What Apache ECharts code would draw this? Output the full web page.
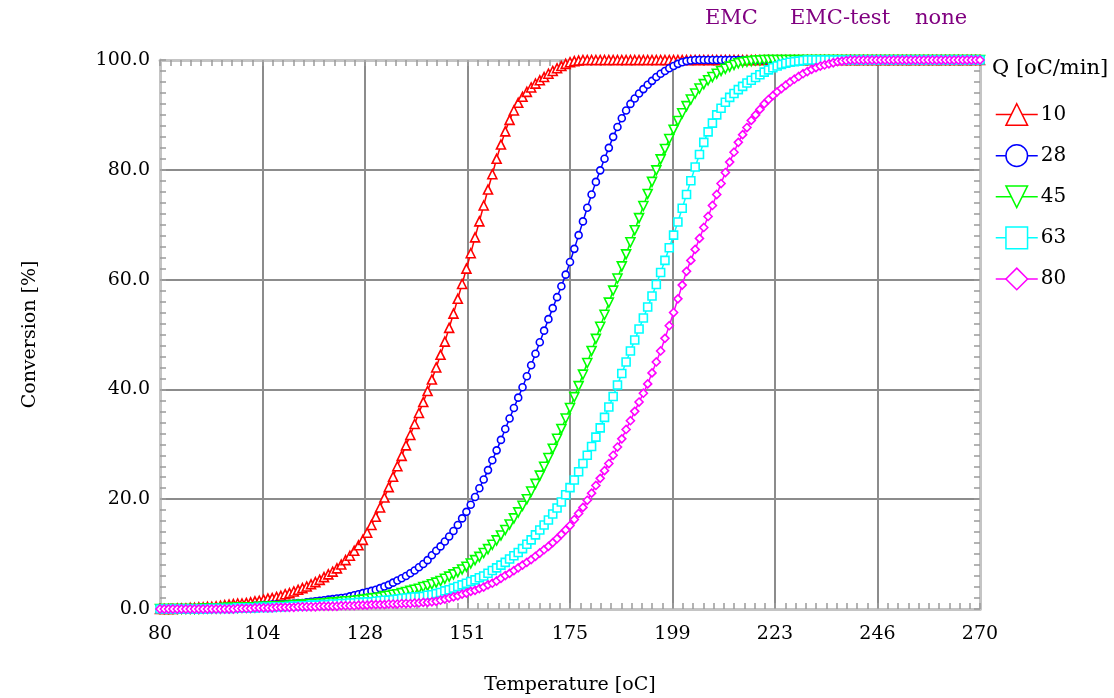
<!DOCTYPE html>
<html>
<head>
<meta charset="utf-8">
<script src="https://cdn.jsdelivr.net/npm/echarts@6/dist/echarts.min.js"></script>
<style>
  html, body { margin: 0; padding: 0; background: #fff; }
  #chart { width: 1114px; height: 698px; }
</style>
</head>
<body>
<div id="chart"></div>
<script>
// temperatures [oC]
var temps = [
  80, 81, 82, 83, 84, 85, 86, 87, 88, 89,
  90, 91, 92, 93, 94, 95, 96, 97, 98, 99,
  100, 101, 102, 103, 104, 105, 106, 107, 108, 109,
  110, 111, 112, 113, 114, 115, 116, 117, 118, 119,
  120, 121, 122, 123, 124, 125, 126, 127, 128, 129,
  130, 131, 132, 133, 134, 135, 136, 137, 138, 139,
  140, 141, 142, 143, 144, 145, 146, 147, 148, 149,
  150, 151, 152, 153, 154, 155, 156, 157, 158, 159,
  160, 161, 162, 163, 164, 165, 166, 167, 168, 169,
  170, 171, 172, 173, 174, 175, 176, 177, 178, 179,
  180, 181, 182, 183, 184, 185, 186, 187, 188, 189,
  190, 191, 192, 193, 194, 195, 196, 197, 198, 199,
  200, 201, 202, 203, 204, 205, 206, 207, 208, 209,
  210, 211, 212, 213, 214, 215, 216, 217, 218, 219,
  220, 221, 222, 223, 224, 225, 226, 227, 228, 229,
  230, 231, 232, 233, 234, 235, 236, 237, 238, 239,
  240, 241, 242, 243, 244, 245, 246, 247, 248, 249,
  250, 251, 252, 253, 254, 255, 256, 257, 258, 259,
  260, 261, 262, 263, 264, 265, 266, 267, 268, 269,
  270
];

// conversion [%], Q = 10 oC/min
var conv10 = [
  0, 0, 0, 0, 0.1, 0.1, 0.1, 0.2, 0.2, 0.3,
  0.3, 0.4, 0.4, 0.5, 0.6, 0.7, 0.8, 0.9, 1.0, 1.0,
  1.1, 1.2, 1.4, 1.5, 1.7, 1.9, 2.0, 2.2, 2.4, 2.7,
  2.9, 3.2, 3.5, 3.8, 4.1, 4.5, 4.9, 5.3, 5.8, 6.3,
  6.8, 7.4, 8.1, 8.9, 9.7, 10.6, 11.6, 12.6, 13.9, 15.3,
  16.8, 18.5, 20.3, 22.2, 24.1, 26.0, 27.9, 29.8, 31.7, 33.7,
  35.7, 37.7, 39.7, 41.8, 44.0, 46.3, 48.7, 51.2, 53.8, 56.5,
  59.2, 62.0, 64.8, 67.7, 70.6, 73.5, 76.4, 79.2, 82.0, 84.6,
  87.0, 89.1, 90.8, 92.2, 93.3, 94.2, 95.0, 95.7, 96.3, 96.9,
  97.5, 98.0, 98.5, 98.9, 99.3, 99.6, 99.8, 99.9, 100, 100,
  100, 100, 100, 100, 100, 100, 100, 100, 100, 100,
  100, 100, 100, 100, 100, 100, 100, 100, 100, 100,
  100, 100, 100, 100, 100, 100, 100, 100, 100, 100,
  100, 100, 100, 100, 100, 100, 100, 100, 100, 100,
  100, 100, 100, 100, 100, 100, 100, 100, 100, 100,
  100, 100, 100, 100, 100, 100, 100, 100, 100, 100,
  100, 100, 100, 100, 100, 100, 100, 100, 100, 100,
  100, 100, 100, 100, 100, 100, 100, 100, 100, 100,
  100, 100, 100, 100, 100, 100, 100, 100, 100, 100,
  100
];

// Q = 28 oC/min
var conv28 = [
  0, 0, 0, 0, 0, 0, 0, 0, 0.1, 0.1,
  0.1, 0.1, 0.2, 0.2, 0.2, 0.3, 0.3, 0.3, 0.4, 0.4,
  0.5, 0.5, 0.6, 0.6, 0.7, 0.7, 0.8, 0.8, 0.8, 0.9,
  0.9, 1.0, 1.1, 1.1, 1.2, 1.3, 1.4, 1.5, 1.6, 1.7,
  1.8, 1.9, 2.0, 2.1, 2.3, 2.5, 2.7, 2.9, 3.1, 3.3,
  3.5, 3.8, 4.1, 4.4, 4.8, 5.2, 5.6, 6.0, 6.5, 7.0,
  7.6, 8.2, 8.9, 9.8, 10.6, 11.4, 12.3, 13.2, 14.2, 15.3,
  16.5, 17.7, 19.0, 20.4, 22.0, 23.6, 25.3, 27.1, 28.9, 30.8,
  32.8, 34.7, 36.6, 38.5, 40.4, 42.4, 44.4, 46.5, 48.6, 50.7,
  52.8, 54.8, 56.8, 58.8, 60.9, 63.2, 65.6, 68.1, 70.6, 73.1,
  75.5, 77.8, 79.9, 82.0, 84.0, 86.0, 87.8, 89.4, 90.8, 92.0,
  93.0, 93.9, 94.7, 95.5, 96.2, 96.9, 97.5, 98.0, 98.5, 98.9,
  99.3, 99.6, 99.8, 99.9, 100, 100, 100, 100, 100, 100,
  100, 100, 100, 100, 100, 100, 100, 100, 100, 100,
  100, 100, 100, 100, 100, 100, 100, 100, 100, 100,
  100, 100, 100, 100, 100, 100, 100, 100, 100, 100,
  100, 100, 100, 100, 100, 100, 100, 100, 100, 100,
  100, 100, 100, 100, 100, 100, 100, 100, 100, 100,
  100, 100, 100, 100, 100, 100, 100, 100, 100, 100,
  100
];

// Q = 45 oC/min
var conv45 = [
  0, 0, 0, 0, 0, 0, 0, 0, 0, 0,
  0.1, 0.1, 0.1, 0.1, 0.1, 0.2, 0.2, 0.2, 0.2, 0.3,
  0.3, 0.3, 0.3, 0.4, 0.4, 0.4, 0.5, 0.5, 0.5, 0.6,
  0.6, 0.7, 0.7, 0.8, 0.8, 0.9, 0.9, 1.0, 1.0, 1.1,
  1.2, 1.2, 1.3, 1.4, 1.4, 1.5, 1.6, 1.7, 1.8, 1.9,
  2.0, 2.1, 2.3, 2.4, 2.6, 2.7, 2.9, 3.1, 3.3, 3.5,
  3.7, 4.0, 4.2, 4.5, 4.8, 5.1, 5.5, 5.9, 6.3, 6.7,
  7.2, 7.7, 8.3, 8.9, 9.5, 10.2, 10.9, 11.7, 12.5, 13.4,
  14.4, 15.4, 16.5, 17.6, 18.8, 20.0, 21.4, 22.8, 24.3, 25.9,
  27.5, 29.2, 31.0, 32.8, 34.7, 36.6, 38.6, 40.6, 42.7, 44.8,
  47.0, 49.2, 51.4, 53.6, 55.8, 58.0, 60.2, 62.4, 64.6, 66.8,
  69.0, 71.2, 73.4, 75.6, 77.8, 79.9, 81.9, 83.8, 85.6, 87.3,
  88.9, 90.3, 91.6, 92.8, 93.9, 94.8, 95.6, 96.3, 96.9, 97.5,
  98.0, 98.4, 98.8, 99.1, 99.4, 99.6, 99.7, 99.8, 99.9, 99.9,
  100, 100, 100, 100, 100, 100, 100, 100, 100, 100,
  100, 100, 100, 100, 100, 100, 100, 100, 100, 100,
  100, 100, 100, 100, 100, 100, 100, 100, 100, 100,
  100, 100, 100, 100, 100, 100, 100, 100, 100, 100,
  100, 100, 100, 100, 100, 100, 100, 100, 100, 100,
  100
];

// Q = 63 oC/min
var conv63 = [
  0, 0, 0, 0, 0, 0, 0, 0, 0, 0,
  0, 0, 0.1, 0.1, 0.1, 0.1, 0.1, 0.1, 0.2, 0.2,
  0.2, 0.2, 0.2, 0.3, 0.3, 0.3, 0.3, 0.4, 0.4, 0.4,
  0.5, 0.5, 0.5, 0.6, 0.6, 0.7, 0.7, 0.7, 0.8, 0.8,
  0.9, 0.9, 1.0, 1.0, 1.1, 1.1, 1.2, 1.2, 1.3, 1.3,
  1.4, 1.5, 1.6, 1.6, 1.7, 1.8, 1.9, 2.0, 2.1, 2.2,
  2.2, 2.3, 2.5, 2.6, 2.8, 3.0, 3.3, 3.5, 3.8, 4.1,
  4.4, 4.7, 5.0, 5.3, 5.7, 6.0, 6.5, 7.0, 7.5, 8.0,
  8.5, 9.1, 9.7, 10.3, 11.0, 11.8, 12.6, 13.5, 14.4, 15.3,
  16.2, 17.3, 18.4, 19.5, 20.8, 22.1, 23.5, 25.0, 26.5, 28.0,
  29.6, 31.3, 33.0, 34.9, 36.8, 38.7, 40.8, 42.9, 45.0, 47.0,
  49.0, 51.0, 53.0, 55.0, 57.0, 59.1, 61.3, 63.5, 65.8, 68.1,
  70.5, 73.0, 75.5, 78.0, 80.5, 82.8, 85.0, 86.9, 88.5, 90.0,
  91.2, 92.3, 93.2, 93.9, 94.6, 95.2, 95.8, 96.3, 96.8, 97.3,
  97.8, 98.2, 98.6, 98.9, 99.2, 99.4, 99.6, 99.7, 99.8, 99.9,
  100, 100, 100, 100, 100, 100, 100, 100, 100, 100,
  100, 100, 100, 100, 100, 100, 100, 100, 100, 100,
  100, 100, 100, 100, 100, 100, 100, 100, 100, 100,
  100, 100, 100, 100, 100, 100, 100, 100, 100, 100,
  100
];

// Q = 80 oC/min
var conv80 = [
  0, 0, 0, 0, 0, 0, 0, 0, 0, 0,
  0, 0, 0, 0, 0, 0, 0, 0, 0.1, 0.1,
  0.1, 0.1, 0.2, 0.2, 0.2, 0.2, 0.2, 0.3, 0.3, 0.3,
  0.3, 0.3, 0.4, 0.4, 0.4, 0.4, 0.4, 0.5, 0.5, 0.5,
  0.5, 0.5, 0.6, 0.6, 0.6, 0.6, 0.7, 0.7, 0.7, 0.8,
  0.8, 0.8, 0.8, 0.9, 0.9, 0.9, 1.0, 1.0, 1.0, 1.1,
  1.1, 1.2, 1.2, 1.3, 1.4, 1.6, 1.8, 2.0, 2.2, 2.4,
  2.7, 2.9, 3.2, 3.4, 3.7, 4.0, 4.4, 4.7, 5.1, 5.6,
  6.1, 6.5, 7.0, 7.5, 8.0, 8.5, 9.0, 9.6, 10.2, 10.8,
  11.4, 12.1, 12.8, 13.6, 14.4, 15.2, 16.3, 17.4, 18.5, 19.8,
  21.1, 22.5, 23.8, 25.2, 26.5, 28.0, 29.5, 31.0, 32.7, 34.3,
  36.0, 37.7, 39.3, 41.0, 43.0, 45.0, 47.0, 49.3, 51.6, 54.0,
  56.5, 59.0, 61.5, 63.5, 65.5, 67.5, 69.5, 71.5, 73.5, 75.5,
  77.5, 79.5, 81.4, 83.2, 85.0, 86.4, 87.7, 89.0, 90.0, 91.0,
  92.0, 92.8, 93.5, 94.2, 94.8, 95.4, 96.0, 96.5, 97.0, 97.5,
  97.9, 98.3, 98.6, 98.9, 99.1, 99.3, 99.5, 99.7, 99.8, 99.9,
  100, 100, 100, 100, 100, 100, 100, 100, 100, 100,
  100, 100, 100, 100, 100, 100, 100, 100, 100, 100,
  100, 100, 100, 100, 100, 100, 100, 100, 100, 100,
  100
];

var rates = ['10', '28', '45', '63', '80'];
var xTickLabels = ['80', '104', '128', '151', '175', '199', '223', '246', '270'];
var yTickLabels = ['0.0', '20.0', '40.0', '60.0', '80.0', '100.0'];

var chart = echarts.init(document.getElementById('chart'));

var FONT = 'DejaVu Serif';
var frameColor = '#c4c4c4';
var tickColor = '#9a9a9a';

function pairs(ys) {
  return temps.map(function (t, i) { return [t, ys[i]]; });
}

function makeSeries(name, ys, color, symbol, size, rotate) {
  return {
    name: name,
    type: 'line',
    xAxisIndex: 0,
    yAxisIndex: 0,
    data: pairs(ys),
    symbol: symbol,
    symbolSize: size,
    symbolRotate: rotate || 0,
    showAllSymbol: true,
    clip: false,
    animation: false,
    lineStyle: { color: color, width: 1.5 },
    itemStyle: { color: '#fff', borderColor: color, borderWidth: 1.6 },
    emphasis: { disabled: true }
  };
}

// frame axes: grid lines, labels, inward minor ticks
function frameX(pos, labels) {
  return {
    type: 'value', min: 0, max: 8, interval: 1, position: pos,
    axisLine: { show: true, onZero: false, lineStyle: { color: frameColor, width: 3 } },
    axisTick: { show: true, inside: true, length: 6, lineStyle: { color: tickColor, width: 1.5 } },
    minorTick: { show: true, splitNumber: 10, length: 6, lineStyle: { color: tickColor, width: 1.5 } },
    splitLine: { show: labels, lineStyle: { color: '#8c8c8c', width: 2 } },
    axisLabel: {
      show: labels, margin: 16, fontFamily: FONT, fontSize: 19, color: '#000',
      formatter: function (v) { return xTickLabels[Math.round(v)]; }
    },
    name: labels ? 'Temperature [oC]' : '',
    nameLocation: 'middle', nameGap: 67,
    nameTextStyle: { fontFamily: FONT, fontSize: 19, color: '#000' }
  };
}

function frameY(pos, labels) {
  return {
    type: 'value', min: 0, max: 100, interval: 20, position: pos,
    axisLine: { show: true, onZero: false, lineStyle: { color: frameColor, width: 3 } },
    axisTick: { show: true, inside: true, length: 6, lineStyle: { color: tickColor, width: 1.5 } },
    minorTick: { show: true, splitNumber: 10, length: 6, lineStyle: { color: tickColor, width: 1.5 } },
    splitLine: { show: labels, lineStyle: { color: '#8c8c8c', width: 2 } },
    axisLabel: {
      show: labels, margin: 10, fontFamily: FONT, fontSize: 19, color: '#000',
      formatter: function (v) { return yTickLabels[Math.round(v / 20)]; }
    },
    name: labels ? 'Conversion [%]' : '',
    nameLocation: 'middle', nameGap: 120,
    nameTextStyle: { fontFamily: FONT, fontSize: 19, color: '#000' }
  };
}

var option = {
  backgroundColor: '#fff',
  animation: false,
  grid: { left: 160, right: 134, top: 60, bottom: 89, containLabel: false, outerBoundsMode: 'none' },
  xAxis: [
    { type: 'value', min: 80, max: 270, show: false },
    frameX('bottom', true),
    frameX('top', false)
  ],
  yAxis: [
    frameY('left', true),
    frameY('right', false)
  ],
  legend: {
    data: rates,
    orient: 'vertical',
    left: 990,
    top: 98,
    itemWidth: 42,
    itemHeight: 27,
    itemGap: 18,
    selectedMode: false,
    lineStyle: { width: 1.5 },
    itemStyle: { borderWidth: 1.5 },
    textStyle: { fontFamily: FONT, fontSize: 20, color: '#000', padding: [0, 0, 0, -2] }
  },
  graphic: [
    { type: 'text', left: 705, top: 8, style: { text: 'EMC', fontFamily: FONT, fontSize: 21, fill: '#800080' } },
    { type: 'text', left: 790, top: 8, style: { text: 'EMC-test', fontFamily: FONT, fontSize: 21, fill: '#800080' } },
    { type: 'text', left: 915, top: 8, style: { text: 'none', fontFamily: FONT, fontSize: 21, fill: '#800080' } },
    { type: 'text', left: 992, top: 58, style: { text: 'Q [oC/min]', fontFamily: FONT, fontSize: 21, fill: '#000' } }
  ],
  series: [
    makeSeries(rates[0], conv10, '#ff0000', 'triangle', 9),
    makeSeries(rates[1], conv28, '#0000ff', 'circle', 7),
    makeSeries(rates[2], conv45, '#00ff00', 'triangle', 9, 180),
    makeSeries(rates[3], conv63, '#00ffff', 'rect', 8),
    makeSeries(rates[4], conv80, '#ff00ff', 'diamond', 8)
  ]
};

chart.setOption(option);
</script>
</body>
</html>
